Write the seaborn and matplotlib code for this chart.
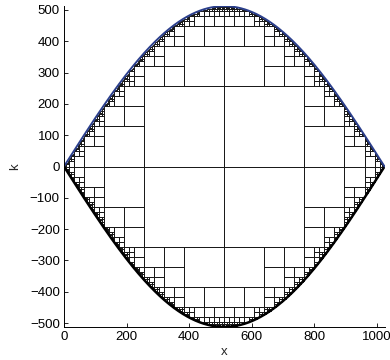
import numpy as np
import pandas as pd
import matplotlib
matplotlib.use("Agg")
import matplotlib.pyplot as plt
from matplotlib.collections import LineCollection
import seaborn as sns

# ---- chart values ----
x_limits = [0, 1024]
k_limits = [-512, 512]
amplitude = 512          # height of the boundary curve at x = 512
root_size = 1024         # side of the root dyadic cell
min_cell_upper = 4       # smallest square drawn, upper half
min_cell_lower = 2       # smallest square drawn, lower half
x_ticks = [0, 200, 400, 600, 800, 1000]
k_ticks = [-500, -400, -300, -200, -100, 0, 100, 200, 300, 400, 500]
x_label = "x"
k_label = "k"

sns.set_theme(style="white")
plt.rcParams["font.family"] = ["Liberation Sans", "DejaVu Sans"]


def boundary(x):
    return amplitude * np.sin(np.pi * np.asarray(x, dtype=float) / root_size)


def dyadic_squares():
    squares = []
    stack = [(x_limits[0], k_limits[0], root_size)]
    while stack:
        x0, y0, s = stack.pop()
        x1, y1 = x0 + s, y0 + s
        fmin = min(boundary(x0), boundary(x1))
        xc = min(max(root_size / 2, x0), x1)
        fmax = boundary(xc)
        ymax = max(abs(y0), abs(y1))
        if y0 < 0 < y1:
            ymin = 0
        else:
            ymin = min(abs(y0), abs(y1))
        if ymax <= fmin + 1e-9 and s < root_size:
            squares.append((x0, y0, s))
            continue
        if ymin >= fmax:
            continue
        limit = min_cell_upper if y0 >= 0 else min_cell_lower
        if s / 2 < limit:
            continue
        h = s / 2
        stack.extend([(x0, y0, h), (x0 + h, y0, h), (x0, y0 + h, h), (x0 + h, y0 + h, h)])
    return squares


squares = dyadic_squares()
segs = []
for x0, y0, s in squares:
    segs.append([(x0, y0), (x0 + s, y0), (x0 + s, y0 + s), (x0, y0 + s), (x0, y0)])

fig = plt.figure(figsize=(3.9, 3.6), dpi=100)
ax = fig.add_axes([0.164, 0.092, 0.822, 0.891])

ax.add_collection(LineCollection(segs, colors="#1a1a1a", linewidths=0.7))

xs = np.linspace(x_limits[0], x_limits[1], 600)
curve = pd.DataFrame({"x": xs, "upper": boundary(xs), "lower": -boundary(xs)})
sns.lineplot(data=curve, x="x", y="lower", ax=ax, color="black", linewidth=1.8, sort=False)
sns.lineplot(data=curve, x="x", y="upper", ax=ax, color="#2b3f8c", linewidth=1.4, sort=False)

ax.set_xlim(x_limits)
ax.set_ylim(k_limits)
ax.set_xticks(x_ticks)
ax.set_yticks(k_ticks)
ax.set_xlabel(x_label, fontsize=9.5, labelpad=2)
ax.set_ylabel(k_label, fontsize=9.5, labelpad=6)
ax.tick_params(direction="in", length=3, width=0.6, colors="black", labelsize=9.5,
               left=True, bottom=True, pad=3)
for side in ["top", "right"]:
    ax.spines[side].set_visible(False)
for side in ["left", "bottom"]:
    ax.spines[side].set_color("black")
    ax.spines[side].set_linewidth(0.7)

fig.savefig("out.png", dpi=100)
